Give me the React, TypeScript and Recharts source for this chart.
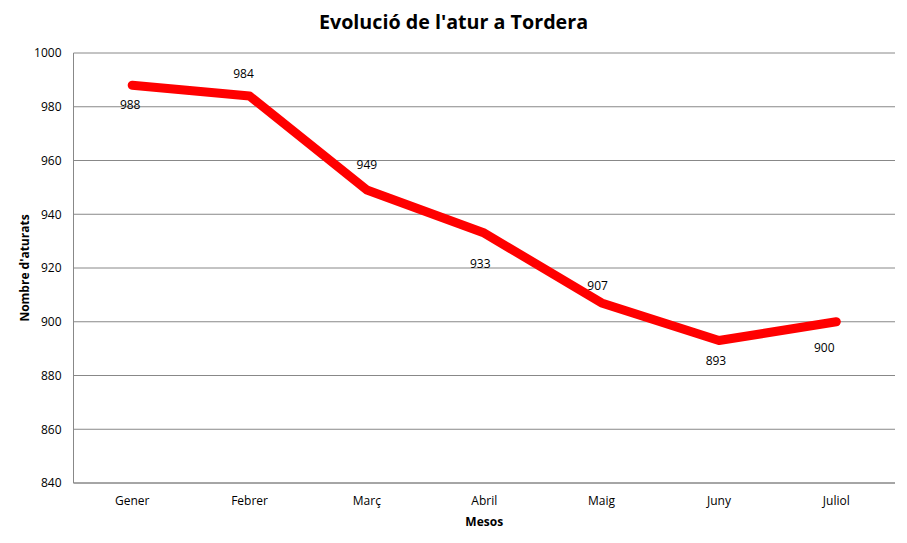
import { LineChart, Line, XAxis, YAxis, CartesianGrid } from "recharts";

const months = ["Gener", "Febrer", "Març", "Abril", "Maig", "Juny", "Juliol"];
const aturats = [988, 984, 949, 933, 907, 893, 900];
const yTicks = [840, 860, 880, 900, 920, 940, 960, 980, 1000];

// where each value label sits relative to its point (Excel placed them by hand)
const labelShift = [
  [-2, 19],
  [-6, -23],
  [0, -26],
  [-4, 30],
  [-4, -17],
  [-3, 20],
  [-12, 26],
];

const data = months.map((m, i) => ({ mes: m, aturats: aturats[i] }));

const font = "'Open Sans', sans-serif";

const ValueLabel = (props: any) => {
  const { x, y, index, value } = props;
  const [dx, dy] = labelShift[index] || [0, -15];
  return (
    <text
      x={x + dx}
      y={y + dy}
      textAnchor="middle"
      dominantBaseline="central"
      fontSize={12}
      fontFamily={font}
      fill="#000"
    >
      {value}
    </text>
  );
};

const App = () => {
  return (
    <div style={{ position: "absolute", left: 0, top: 0, width: 907, height: 543, background: "#fff" }}>
      <div
        style={{
          position: "absolute",
          top: 8,
          width: 907,
          textAlign: "center",
          fontFamily: font,
          fontWeight: 700,
          fontSize: 19.7,
          color: "#000",
        }}
      >
        Evolució de l'atur a Tordera
      </div>
      <LineChart
        width={907}
        height={543}
        data={data}
        margin={{ top: 53, right: 12, bottom: 0, left: 0 }}
      >
        <CartesianGrid vertical={false} stroke="#888" strokeDasharray="" />
        <XAxis
          dataKey="mes"
          height={60}
          padding={{ left: 58.7, right: 58.7 }}
          stroke="#888"
          tickLine={false}
          tickSize={6}
          tickMargin={7}
          tick={{ fill: "#000", fontSize: 12, fontFamily: font }}
          label={{
            value: "Mesos",
            position: "insideBottom",
            offset: 17,
            style: { fill: "#000", fontSize: 12, fontWeight: 700, fontFamily: font },
          }}
        />
        <YAxis
          domain={[840, 1000]}
          ticks={yTicks}
          width={73.5}
          stroke="#888"
          tickLine={false}
          tickSize={6}
          tickMargin={6}
          tick={{ fill: "#000", fontSize: 12, fontFamily: font }}
          label={{
            value: "Nombre d'aturats",
            angle: -90,
            position: "insideLeft",
            offset: 25,
            style: { textAnchor: "middle", fill: "#000", fontSize: 12, fontWeight: 700, fontFamily: font },
          }}
        />
        <Line
          type="linear"
          dataKey="aturats"
          stroke="#FF0000"
          strokeWidth={9}
          strokeLinecap="round"
          strokeLinejoin="round"
          dot={false}
          activeDot={false}
          label={<ValueLabel />}
          isAnimationActive={false}
        />
      </LineChart>
    </div>
  );
};

export default App;
